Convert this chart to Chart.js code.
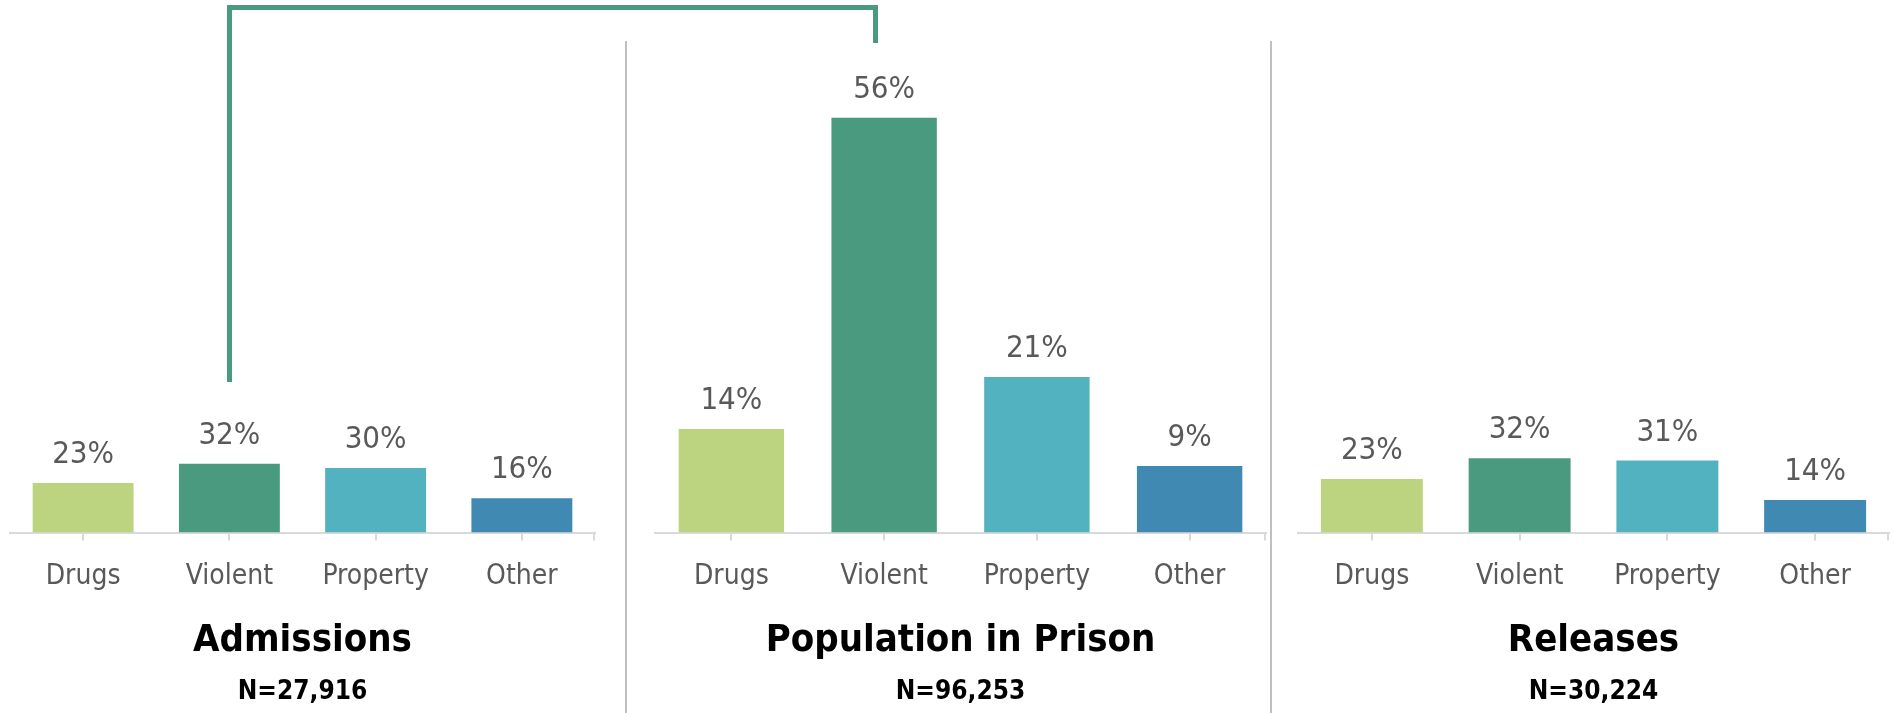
<!DOCTYPE html>
<html>
<head>
<meta charset="utf-8">
<title>Offense type: admissions, population, releases</title>
<script src="https://cdn.jsdelivr.net/npm/chart.js@4"></script>
<style>
    body { margin: 0; background: #fff; }
    #wrap { position: relative; width: 1894px; height: 713px; overflow: hidden; background: #fff; }
    #wrap canvas { position: absolute; top: 0; }
    .rule { position: absolute; background: #BFBFBF; }
    .bracket { position: absolute; background: #4A9A80; }
</style>
</head>
<body>
<div id="wrap">
    <canvas id="admissions" width="626" height="713" style="left: 0px"></canvas>
    <canvas id="population" width="645" height="713" style="left: 626px"></canvas>
    <canvas id="releases" width="623" height="713" style="left: 1271px"></canvas>

    <div class="rule" style="left: 625px; top: 41px; width: 2px; height: 672px"></div>
    <div class="rule" style="left: 1270px; top: 41px; width: 2px; height: 672px"></div>

    <div class="bracket" style="left: 227px; top: 5px; width: 651px; height: 5px"></div>
    <div class="bracket" style="left: 227px; top: 5px; width: 5px; height: 377px"></div>
    <div class="bracket" style="left: 873px; top: 5px; width: 5px; height: 38px"></div>
</div>
<script>
const categories = ["Drugs", "Violent", "Property", "Other"];
const admissions = [23, 32, 30, 16];
const population = [14, 56, 21, 9];
const releases = [23, 32, 31, 14];
const panelTitles = ["Admissions", "Population in Prison", "Releases"];
const panelCounts = ["N=27,916", "N=96,253", "N=30,224"];

const FONT = "'Liberation Sans Narrow', 'Arial Narrow', 'DejaVu Sans Condensed', sans-serif";
const barColors = ["#BCD47F", "#4A9A80", "#52B2BF", "#3F89B3"];
const axisGray = "#D9D9D9";
const textGray = "#595959";

// value labels above each bar + the little end tick on the right of the axis
const barLabels = {
    id: "barLabels",
    afterDatasetsDraw(chart) {
        const ctx = chart.ctx;
        const meta = chart.getDatasetMeta(0);
        const values = chart.data.datasets[0].data;
        ctx.save();
        ctx.fillStyle = textGray;
        ctx.font = `31px ${FONT}`;
        ctx.textAlign = "center";
        ctx.textBaseline = "alphabetic";
        meta.data.forEach((bar, i) => {
            ctx.fillText(`${values[i]}%`, bar.x, bar.y - 20);
        });
        const x = chart.scales.x;
        ctx.strokeStyle = axisGray;
        ctx.lineWidth = 2;
        ctx.beginPath();
        ctx.moveTo(x.right - 1, x.top);
        ctx.lineTo(x.right - 1, x.top + 8);
        ctx.stroke();
        ctx.restore();
    },
};

const panel = (id, values, idx, yMax, padLeft, padRight) => {
    const ctx = document.getElementById(id).getContext("2d");
    new Chart(ctx, {
        type: "bar",
        data: {
            labels: categories,
            datasets: [
                {
                    data: values,
                    backgroundColor: barColors,
                    borderWidth: 0,
                    barPercentage: 0.69,
                    categoryPercentage: 1,
                },
            ],
        },
        options: {
            responsive: false,
            animation: false,
            layout: {
                padding: { top: 100, left: padLeft, right: padRight, bottom: 0 },
            },
            plugins: {
                legend: { display: false },
                tooltip: { enabled: false },
                title: {
                    display: true,
                    position: "bottom",
                    weight: 1000,
                    text: panelTitles[idx],
                    color: "#000",
                    font: { family: FONT, size: 38, weight: "bold", lineHeight: 1.2 },
                    padding: { top: 6, bottom: 13 },
                },
                subtitle: {
                    display: true,
                    position: "bottom",
                    weight: 1500,
                    text: panelCounts[idx],
                    color: "#000",
                    font: { family: FONT, size: 26, weight: "bold", lineHeight: 1.2 },
                    padding: { top: 0, bottom: 5 },
                },
            },
            scales: {
                x: {
                    grid: {
                        display: true,
                        drawOnChartArea: false,
                        drawTicks: true,
                        tickLength: 8,
                        offset: false,
                        color: axisGray,
                        lineWidth: 2,
                    },
                    border: { color: axisGray, width: 2 },
                    ticks: {
                        padding: 19,
                        color: textGray,
                        font: { family: FONT, size: 28, lineHeight: 1.2 },
                    },
                },
                y: {
                    display: false,
                    min: 0,
                    max: yMax,
                },
            },
        },
        plugins: [barLabels],
    });
};

panel("admissions", admissions, 0, 201, 10, 31);
panel("population", population, 1, 58.4, 29, 5);
panel("releases", releases, 2, 186, 27, 5);
</script>
</body>
</html>
